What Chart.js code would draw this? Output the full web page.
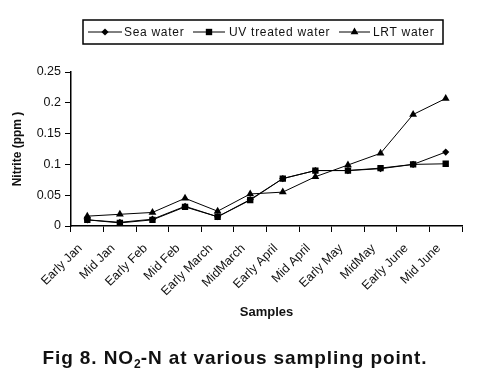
<!DOCTYPE html>
<html>
<head>
<meta charset="utf-8">
<script src="https://cdn.jsdelivr.net/npm/chart.js@4.4.1/dist/chart.umd.min.js"></script>
<style>
  html, body { margin: 0; padding: 0; background: #fff; }
  #wrap { position: relative; width: 478px; height: 380px; }
  #c { position: absolute; left: 0; top: 0; }
  #cap { position: absolute; left: 0; width: 470px; top: 347px; text-align: center;
         font: bold 19px "Liberation Sans", Arial, sans-serif; letter-spacing: 0.9px; color: #111; }
  #cap sub { font-size: 12px; vertical-align: -4px; line-height: 0; letter-spacing: 0; }
</style>
</head>
<body>
<div id="wrap">
  <canvas id="c" width="478" height="380"></canvas>
  <div id="cap">Fig 8. NO<sub>2</sub>-N at various sampling point.</div>
</div>
<script>
const categories = ["Early Jan", "Mid Jan", "Early Feb", "Mid Feb", "Early March", "MidMarch",
                    "Early April", "Mid April", "Early May", "MidMay", "Early June", "Mid June"];
const seaWater = [0.010, 0.006, 0.011, 0.032, 0.015, 0.043, 0.077, 0.090, 0.090, 0.093, 0.100, 0.120];
const uvWater  = [0.010, 0.005, 0.010, 0.031, 0.015, 0.042, 0.077, 0.090, 0.090, 0.094, 0.100, 0.101];
const lrtWater = [0.016, 0.019, 0.022, 0.045, 0.024, 0.052, 0.055, 0.080, 0.099, 0.118, 0.181, 0.207];
const yTicks = [0, 0.05, 0.1, 0.15, 0.2, 0.25];
const seriesNames = ["Sea water", "UV treated water", "LRT water"];

const FONT = '"Liberation Sans", Arial, sans-serif';

function drawMarker(ctx, style, x, y, r) {
  ctx.save();
  ctx.fillStyle = '#000';
  ctx.beginPath();
  if (style === 'rectRot') {
    ctx.moveTo(x, y - r); ctx.lineTo(x + r, y); ctx.lineTo(x, y + r); ctx.lineTo(x - r, y);
  } else if (style === 'rect') {
    const s = r * Math.SQRT1_2;
    ctx.rect(x - s, y - s, 2 * s, 2 * s);
  } else {
    ctx.moveTo(x, y - r); ctx.lineTo(x + r * 0.866, y + r * 0.5); ctx.lineTo(x - r * 0.866, y + r * 0.5);
  }
  ctx.closePath();
  ctx.fill();
  ctx.restore();
}

const legendPlugin = {
  id: 'boxLegend',
  afterDraw(chart) {
    const ctx = chart.ctx;
    ctx.save();
    ctx.strokeStyle = '#000';
    ctx.lineWidth = 1.5;
    ctx.strokeRect(83, 20, 360, 24);
    const items = [
      { l1: 88, l2: 122, tx: 124 },
      { l1: 193, l2: 225, tx: 229 },
      { l1: 339, l2: 370, tx: 373 }
    ];
    chart.data.datasets.forEach((ds, i) => {
      const it = items[i];
      const y = 32;
      ctx.strokeStyle = '#000';
      ctx.lineWidth = 1;
      ctx.beginPath(); ctx.moveTo(it.l1, y); ctx.lineTo(it.l2, y); ctx.stroke();
      drawMarker(ctx, ds.pointStyle, (it.l1 + it.l2) / 2, y, ds.pointRadius);
      ctx.fillStyle = '#111';
      ctx.font = '12px ' + FONT;
      if ('letterSpacing' in ctx) ctx.letterSpacing = '0.7px';
      ctx.textBaseline = 'middle';
      ctx.textAlign = 'left';
      ctx.fillText(ds.label, it.tx, y + 1);
      if ('letterSpacing' in ctx) ctx.letterSpacing = '0px';
    });
    ctx.restore();
  }
};

function mkDataset(label, data, style, r) {
  return {
    label, data,
    borderColor: '#000', backgroundColor: '#000', borderWidth: 1,
    pointStyle: style, pointRadius: r, pointHoverRadius: r,
    pointBackgroundColor: '#000', pointBorderColor: '#000', pointBorderWidth: 0,
    tension: 0, fill: false
  };
}

new Chart(document.getElementById('c'), {
  type: 'line',
  data: {
    labels: categories,
    datasets: [
      mkDataset(seriesNames[0], seaWater, 'rectRot', 3.6),
      mkDataset(seriesNames[1], uvWater, 'rect', 4.5),
      mkDataset(seriesNames[2], lrtWater, 'triangle', 4.5)
    ]
  },
  options: {
    responsive: false,
    animation: false,
    events: [],
    layout: { padding: { left: 0, top: 72, right: 16, bottom: 60 } },
    plugins: { legend: { display: false }, tooltip: { enabled: false }, title: { display: false } },
    scales: {
      x: {
        type: 'category',
        offset: true,
        afterFit(scale) { scale.height = 94; },
        border: { color: '#000', width: 1.5 },
        grid: { offset: true, drawOnChartArea: false, drawTicks: true, tickLength: 6, color: '#000', lineWidth: 1 },
        ticks: { color: '#111', font: { family: FONT, size: 12.5 }, maxRotation: 45, minRotation: 45, padding: 9, labelOffset: -7, autoSkip: false },
        title: { display: true, text: 'Samples', color: '#111', font: { family: FONT, size: 13, weight: 'bold' }, padding: { top: 0, bottom: 0 } }
      },
      y: {
        min: 0, max: 0.25,
        afterFit(scale) { scale.width = 71; },
        afterBuildTicks(scale) { scale.ticks = yTicks.map(v => ({ value: v })); },
        border: { color: '#000', width: 1.5 },
        grid: { drawOnChartArea: false, drawTicks: true, tickLength: 6, color: '#000', lineWidth: 1 },
        ticks: { color: '#111', font: { family: FONT, size: 12.5 }, padding: 4,
                 callback: (v) => String(+Number(v).toFixed(2)) },
        title: { display: true, text: 'Nitrite (ppm )', color: '#111', font: { family: FONT, size: 12, weight: 'bold' }, padding: { top: 10, bottom: 0 } }
      }
    }
  },
  plugins: [legendPlugin]
});
</script>
</body>
</html>
